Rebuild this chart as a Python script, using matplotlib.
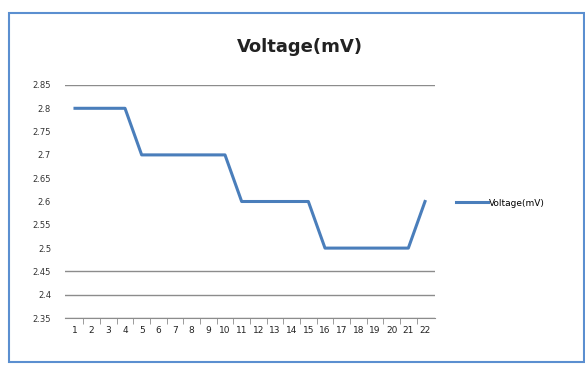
import matplotlib
matplotlib.use("Agg")
import matplotlib.pyplot as plt
from matplotlib.patches import Rectangle
import numpy as np

categories = [str(i) for i in range(1, 23)]
voltage = [2.8, 2.8, 2.8, 2.8, 2.7, 2.7, 2.7, 2.7, 2.7, 2.7,
           2.6, 2.6, 2.6, 2.6, 2.6, 2.5, 2.5, 2.5, 2.5, 2.5, 2.5, 2.6]
yticks = [2.35, 2.4, 2.45, 2.5, 2.55, 2.6, 2.65, 2.7, 2.75, 2.8, 2.85]
grid_levels = [2.35, 2.4, 2.45, 2.85]

W, H = 585, 365
fig = plt.figure(figsize=(W/100, H/100), dpi=100)
fig.patch.set_facecolor("white")
fig.add_artist(Rectangle((9/W, 3/H), 575/W, 349/H, transform=fig.transFigure,
                         fill=False, edgecolor="#5b8fd0", linewidth=1.5))

ax = fig.add_axes([65/W, 1 - 318/H, (435-65)/W, (318-85)/H])
x = np.arange(len(categories))
ax.plot(x, voltage, color="#4a7ebb", linewidth=2.2, label="Voltage(mV)")
ax.set_xlim(-0.6, len(categories) - 0.4)
ax.set_ylim(2.35, 2.85)
for g in grid_levels:
    ax.axhline(g, color="#8c8c8c", linewidth=1, zorder=0)
ax.set_yticks(yticks)
ax.set_yticklabels([f"{v:g}" for v in yticks], fontsize=6, color="#333333")
ax.set_xticks(x)
ax.set_xticklabels(categories, fontsize=6.5, color="#222222")
ax.set_xticks(x[:-1] + 0.5, minor=True)
ax.tick_params(axis="x", which="major", length=0, pad=6)
ax.tick_params(axis="x", which="minor", length=4, color="#8c8c8c")
ax.tick_params(axis="y", length=0, pad=10)
for s in ["top", "right", "left"]:
    ax.spines[s].set_visible(False)
ax.spines["bottom"].set_color("#8c8c8c")

fig.text(300/W, 1 - 47/H, "Voltage(mV)", ha="center", va="center",
         fontsize=13, fontweight="bold", color="#222222")
ax.legend(loc="center left", bbox_to_anchor=(448/W, 1 - 203/H),
          bbox_transform=fig.transFigure, frameon=False, fontsize=6.5,
          handlelength=3.5, handletextpad=0.1)

fig.savefig("out.png", dpi=100)
